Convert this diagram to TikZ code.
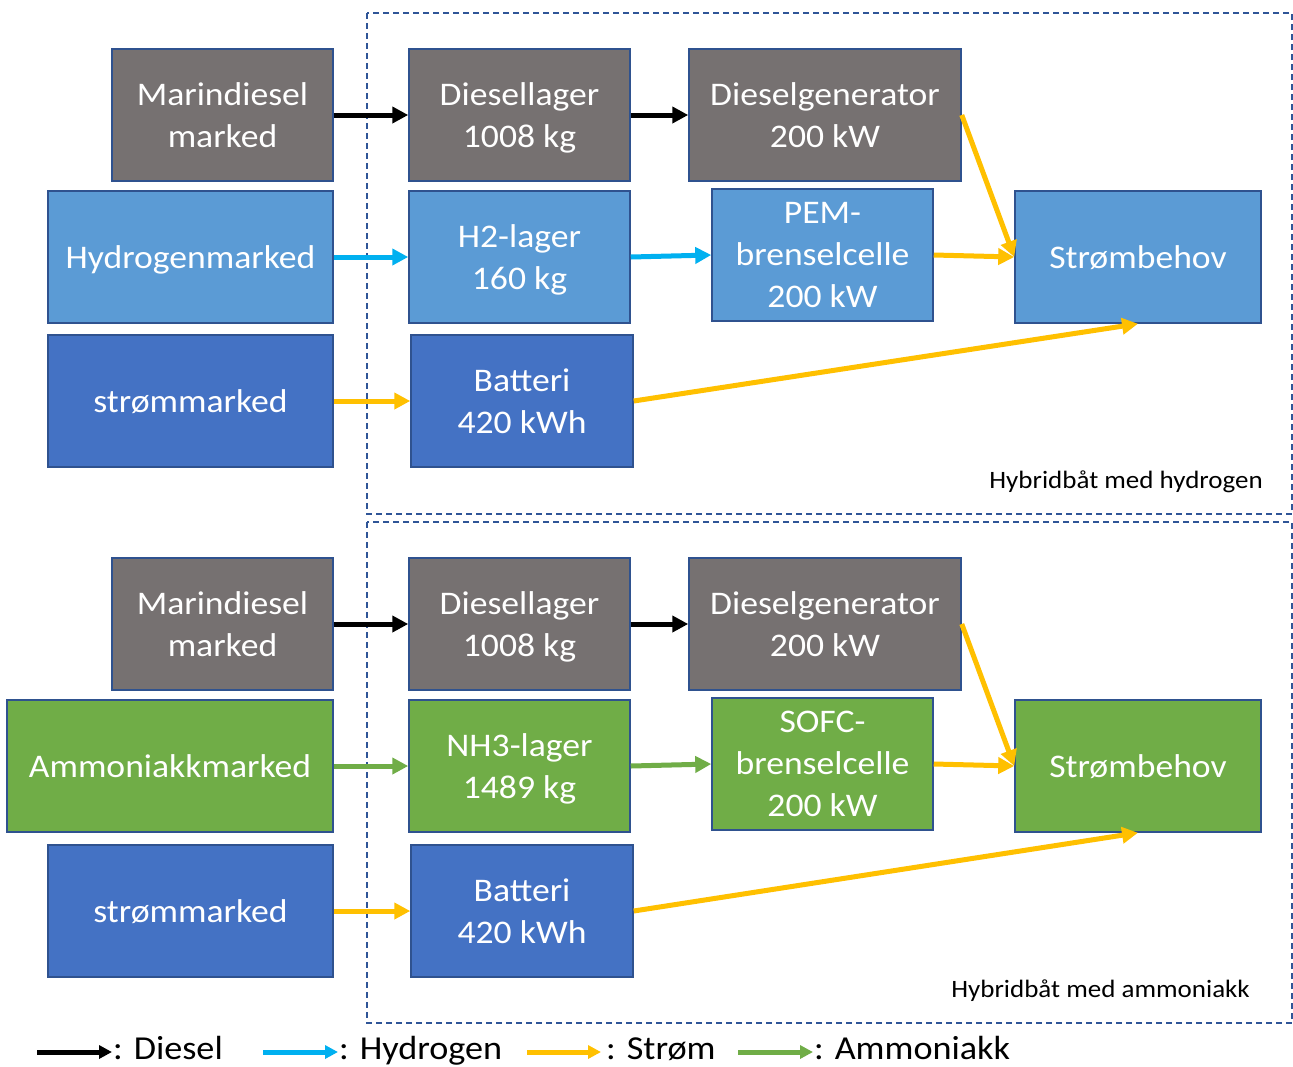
\documentclass[tikz,border=0pt]{standalone}
\usepackage{fontspec}
\setmainfont{Carlito}[FakeStretch=1.08]
\usetikzlibrary{arrows.meta}
\definecolor{greyc}{HTML}{767171}
\definecolor{lblue}{HTML}{5B9BD5}
\definecolor{dblue}{HTML}{4472C4}
\definecolor{greenc}{HTML}{70AD47}
\definecolor{bordc}{HTML}{2F528F}
\definecolor{dashc}{HTML}{2F5597}
\definecolor{yellowc}{HTML}{FFC000}
\definecolor{cyanc}{HTML}{00B0F0}
\newcommand\boxfont{\fontsize{33}{42}\selectfont}
\newcommand\legfont{\fontsize{33.5}{40}\selectfont}
\newcommand\labfont{\fontsize{25}{30}\selectfont}
\tikzset{
  box/.style={draw=bordc, line width=1.5pt, text=white, align=center, inner sep=0pt, text depth=0pt, font=\boxfont},
  flow/.style={line width=5pt, -{Triangle[length=16pt,width=16pt]}},
  dflow/.style={flow, draw=black},
  hflow/.style={flow, draw=cyanc},
  sflow/.style={flow, draw=yellowc},
  aflow/.style={flow, draw=greenc},
  lflow/.style={line width=5pt, -{Triangle[length=13pt,width=13pt]}},
  frame/.style={draw=dashc, line width=1.5pt, dash pattern=on 6pt off 4pt},
  leg/.style={anchor=base west, inner sep=0pt, font=\legfont}
}
\begin{document}
\begin{tikzpicture}[x=1pt,y=-1pt]
\useasboundingbox[fill=white] (0,0) rectangle (1293,1066);
% frames
\draw[frame] (367,13) rectangle (1292,514);
\draw[frame] (367,522) rectangle (1292,1023);
\node[anchor=base east, inner sep=0pt, font=\labfont] (lab1) at (1263,488) {Hybridbåt med hydrogen};
\node[anchor=base east, inner sep=0pt, font=\labfont] (lab2) at (1250,997) {Hybridbåt med ammoniakk};
% ---- top ----
\node[box, fill=greyc, minimum width=221, minimum height=132] (md1) at (222.5,115) {Marindiesel\\marked};
\node[box, fill=greyc, minimum width=221, minimum height=132] (dl1) at (519.5,115) {Diesellager\\1008 kg};
\node[box, fill=greyc, minimum width=272, minimum height=132] (dg1) at (825,115) {Dieselgenerator\\200 kW};
\node[box, fill=lblue, minimum width=285, minimum height=132] (hm1) at (190.5,257) {Hydrogenmarked};
\node[box, fill=lblue, minimum width=221, minimum height=132] (hl1) at (519.5,257) {H2-lager\\160 kg};
\node[box, fill=lblue, minimum width=221, minimum height=132] (fc1) at (822.5,255) {PEM-\\brenselcelle\\200 kW};
\node[box, fill=lblue, minimum width=246, minimum height=132] (sb1) at (1138,257) {Strømbehov};
\node[box, fill=dblue, minimum width=285, minimum height=132] (sm1) at (190.5,401) {strømmarked};
\node[box, fill=dblue, minimum width=222, minimum height=132] (ba1) at (522,401) {Batteri\\420 kWh};
\draw[dflow] (md1.east) -- (dl1.west);
\draw[dflow] (dl1.east) -- (dg1.west);
\draw[hflow] (hm1.east) -- (hl1.west);
\draw[hflow] (hl1.east) -- (fc1.west);
\draw[sflow] (dg1.east) -- (sb1.west);
\draw[sflow] (fc1.east) -- (sb1.west);
\draw[sflow] (sm1.east) -- (ba1.west);
\draw[sflow] (ba1.east) -- (sb1.south);
% ---- bottom ----
\node[box, fill=greyc, minimum width=221, minimum height=132] (md2) at (222.5,624) {Marindiesel\\marked};
\node[box, fill=greyc, minimum width=221, minimum height=132] (dl2) at (519.5,624) {Diesellager\\1008 kg};
\node[box, fill=greyc, minimum width=272, minimum height=132] (dg2) at (825,624) {Dieselgenerator\\200 kW};
\node[box, fill=greenc, minimum width=326, minimum height=132] (am2) at (170,766) {Ammoniakkmarked};
\node[box, fill=greenc, minimum width=221, minimum height=132] (nl2) at (519.5,766) {NH3-lager\\1489 kg};
\node[box, fill=greenc, minimum width=221, minimum height=132] (fc2) at (822.5,764) {SOFC-\\brenselcelle\\200 kW};
\node[box, fill=greenc, minimum width=246, minimum height=132] (sb2) at (1138,766) {Strømbehov};
\node[box, fill=dblue, minimum width=285, minimum height=132] (sm2) at (190.5,911) {strømmarked};
\node[box, fill=dblue, minimum width=222, minimum height=132] (ba2) at (522,911) {Batteri\\420 kWh};
\draw[dflow] (md2.east) -- (dl2.west);
\draw[dflow] (dl2.east) -- (dg2.west);
\draw[aflow] (am2.east) -- (nl2.west);
\draw[aflow] (nl2.east) -- (fc2.west);
\draw[sflow] (dg2.east) -- (sb2.west);
\draw[sflow] (fc2.east) -- (sb2.west);
\draw[sflow] (sm2.east) -- (ba2.west);
\draw[sflow] (ba2.east) -- (sb2.south);
% ---- legend ----
\coordinate (k1a) at (37,1052); \coordinate (k1b) at (112,1052);
\coordinate (k2a) at (263,1052); \coordinate (k2b) at (338,1052);
\coordinate (k3a) at (527,1052); \coordinate (k3b) at (601,1052);
\coordinate (k4a) at (738,1052); \coordinate (k4b) at (813,1052);
\draw[lflow, draw=black] (k1a) -- (k1b);
\draw[lflow, draw=cyanc] (k2a) -- (k2b);
\draw[lflow, draw=yellowc] (k3a) -- (k3b);
\draw[lflow, draw=greenc] (k4a) -- (k4b);
\node[leg] (t1) at (113,1059) {: Diesel};
\node[leg] (t2) at (339,1059) {: Hydrogen};
\node[leg] (t3) at (606,1059) {: Strøm};
\node[leg] (t4) at (814,1059) {: Ammoniakk};
\end{tikzpicture}
\end{document}
